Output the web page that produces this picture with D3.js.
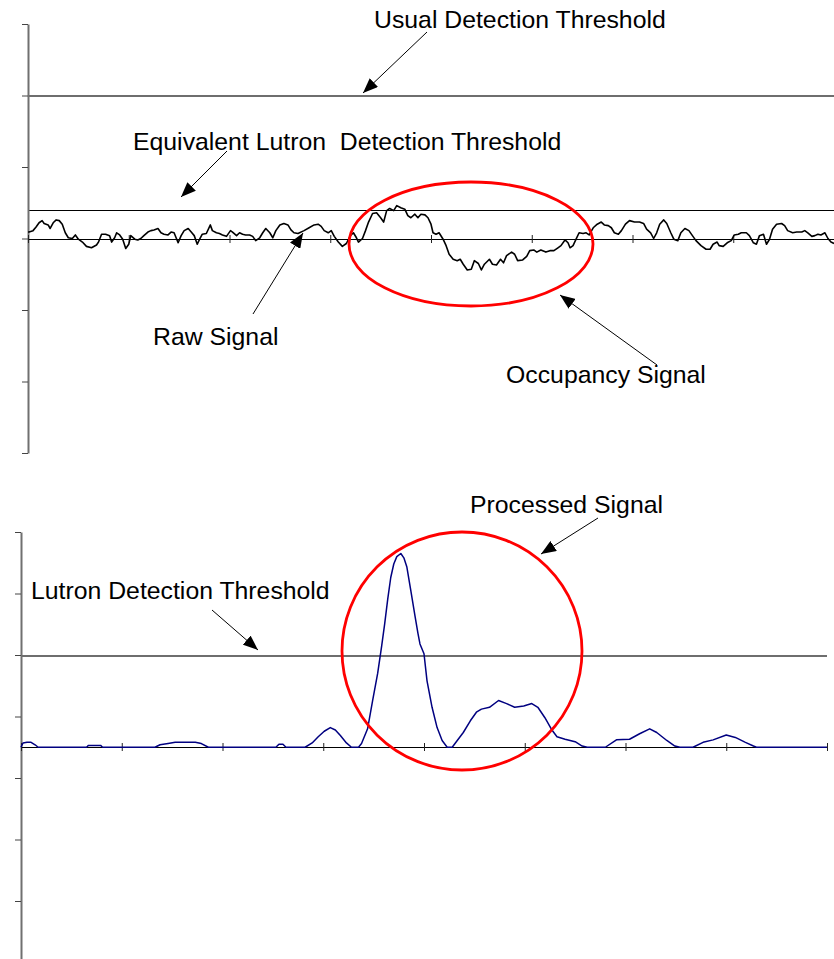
<!DOCTYPE html>
<html>
<head>
<meta charset="utf-8">
<script src="https://cdn.jsdelivr.net/npm/d3@7"></script>
<style>
body { margin: 0; background: #fff; }
text { font-family: "Liberation Sans", Arial, sans-serif; }
</style>
</head>
<body>
<div id="chart"></div>
<script>

// raw sensor signal [sample, value]
var rawSignal = [[0,0.09],[1,0.09],[5,0.11],[8,0.16],[11,0.22],[14,0.25],[16,0.21],[20,0.19],[22,0.14],[25,0.22],
  [28,0.26],[31,0.25],[34,0.20],[37,0.08],[40,0.01],[44,0.00],[47,0.05],[50,-0.01],[54,-0.05],[58,-0.11],
  [63,-0.13],[68,-0.09],[70,-0.05],[73,0.06],[77,0.06],[81,0.04],[83,-0.05],[86,0.01],[88,0.08],[91,0.05],
  [94,-0.01],[97,-0.14],[100,-0.08],[102,0.04],[106,-0.01],[109,-0.02],[112,0.00],[115,0.04],[119,0.09],[122,0.11],
  [125,0.12],[129,0.14],[132,0.08],[135,0.06],[139,0.05],[142,0.09],[145,0.08],[149,-0.06],[152,0.04],[155,0.11],
  [159,0.14],[162,0.09],[165,0.04],[168,-0.08],[170,-0.02],[173,0.06],[177,0.07],[181,0.19],[183,0.11],[187,0.08],
  [190,0.07],[193,0.05],[197,0.03],[201,0.11],[203,0.09],[207,0.04],[210,0.08],[213,0.06],[216,0.05],[220,0.05],
  [223,0.03],[226,-0.03],[230,0.01],[233,0.08],[236,0.14],[240,0.08],[243,0.01],[246,0.11],[250,0.19],[254,0.21],
  [258,0.19],[261,0.12],[264,0.08],[268,0.07],[274,0.11],[279,0.15],[284,0.19],[288,0.20],[291,0.17],[294,0.11],
  [298,0.08],[301,0.11],[304,0.03],[308,-0.05],[312,-0.11],[316,-0.07],[320,0.04],[323,0.08],[326,0.01],[328,-0.05],
  [332,0.00],[335,0.11],[338,0.23],[342,0.35],[346,0.36],[350,0.29],[353,0.23],[356,0.39],[359,0.42],[363,0.39],
  [366,0.46],[370,0.43],[374,0.41],[377,0.32],[380,0.29],[384,0.34],[387,0.29],[390,0.34],[394,0.33],[397,0.29],
  [400,0.20],[402,0.08],[405,0.06],[408,0.08],[412,-0.01],[415,-0.10],[418,-0.22],[422,-0.29],[426,-0.31],[429,-0.29],
  [432,-0.36],[436,-0.44],[440,-0.43],[443,-0.31],[447,-0.35],[450,-0.44],[453,-0.36],[458,-0.29],[461,-0.36],[465,-0.37],
  [469,-0.29],[472,-0.34],[475,-0.24],[480,-0.19],[483,-0.22],[486,-0.31],[491,-0.30],[495,-0.25],[498,-0.17],[502,-0.16],
  [505,-0.19],[509,-0.16],[514,-0.19],[518,-0.17],[522,-0.17],[526,-0.13],[529,-0.10],[533,-0.02],[536,-0.06],[538,-0.13],
  [541,-0.10],[544,-0.01],[547,0.08],[551,0.07],[554,0.08],[557,0.05],[561,0.15],[565,0.20],[569,0.23],[572,0.19],
  [576,0.18],[579,0.15],[582,0.08],[586,0.06],[589,0.11],[593,0.20],[597,0.25],[602,0.23],[607,0.23],[611,0.21],
  [614,0.13],[618,0.08],[621,0.00],[624,0.08],[627,0.20],[631,0.26],[634,0.21],[638,0.08],[641,-0.01],[645,-0.03],
  [648,0.08],[652,0.14],[656,0.11],[660,0.03],[663,-0.03],[668,-0.10],[673,-0.15],[677,-0.15],[680,-0.08],[684,-0.05],
  [686,-0.10],[690,-0.11],[694,-0.06],[698,-0.03],[701,0.05],[705,0.06],[708,0.08],[713,0.08],[716,0.04],[720,-0.06],
  [723,-0.08],[726,0.04],[730,0.06],[733,-0.08],[736,-0.01],[739,0.13],[743,0.20],[748,0.21],[751,0.18],[754,0.11],
  [759,0.08],[763,0.09],[768,0.09],[771,0.11],[774,0.08],[778,0.03],[781,0.04],[784,0.06],[787,0.05],[791,0.08],
  [794,0.00],[797,-0.05],[800,-0.07]];

// processed signal [sample, value]
var processedSignal = [[0,0],[2,0.07],[6,0.08],[10,0.08],[14,0.04],[17,0],[65,0],[67,0.03],[79,0.03],[81,0],
  [133,0],[138,0.04],[146,0.06],[153,0.08],[173,0.08],[179,0.06],[186,0],[253,0],[256,0.05],[260,0.05],[263,0],
  [282,0],[289,0.07],[295,0.17],[301,0.26],[307,0.32],[312,0.28],[317,0.19],[323,0.07],[328,0],[335,0],
  [338,0.06],[344,0.30],[349,0.76],[354,1.20],[358,1.65],[361,2.01],[364,2.41],[367,2.76],[370,2.98],[373,3.10],
  [377,3.15],[380,3.08],[383,2.93],[387,2.54],[391,2.14],[394,1.85],[396,1.68],[400,1.52],[403,1.08],[408,0.65],
  [413,0.32],[418,0.11],[423,0],[428,0],[433,0.11],[439,0.24],[446,0.43],[452,0.57],[457,0.62],[465,0.65],
  [474,0.76],[482,0.71],[490,0.65],[499,0.67],[507,0.71],[513,0.65],[520,0.48],[527,0.28],[532,0.17],[540,0.13],
  [550,0.09],[557,0.02],[562,0],[580,0],[591,0.12],[604,0.13],[614,0.22],[624,0.30],[631,0.24],[641,0.11],
  [649,0.02],[654,0],[667,0],[677,0.08],[687,0.12],[700,0.20],[709,0.16],[719,0.08],[727,0.02],[730,0],[800,0]];

var usualThreshold = 2;
var equivThreshold = 0.4;
var lutronThreshold = 1.5;

var xTicks = [0, 100, 200, 300, 400, 500, 600, 700, 800];
var topYTicks = [-3, -2, -1, 0, 1, 2, 3];
var bottomYTicks = [-3.5, -2.5, -1.5, -0.5, 0.5, 1.5, 2.5, 3.5];

var width = 834, height = 959;

var svg = d3.select("#chart")
  .append("svg")
    .attr("width", width)
    .attr("height", height);

// arrow head
svg.append("defs").append("marker")
    .attr("id", "arrow")
    .attr("viewBox", "0 0 15 12")
    .attr("refX", 15)
    .attr("refY", 6)
    .attr("markerWidth", 15)
    .attr("markerHeight", 12)
    .attr("markerUnits", "userSpaceOnUse")
    .attr("orient", "auto")
  .append("path")
    .attr("d", "M0,0L15,6L0,12Z")
    .attr("fill", "#000");

// scales
var xTop = d3.scaleLinear().domain([0, 800]).range([28, 834]);
var yTop = d3.scaleLinear().domain([-3, 3]).range([453, 24]);
var xBot = d3.scaleLinear().domain([0, 800]).range([21, 827]);
var yBot = d3.scaleLinear().domain([-3.5, 3.5]).range([962.5, 532]);

function drawPanel(x, y, yTicks, x0) {
  // vertical axis
  var ya = svg.append("g")
      .attr("transform", "translate(" + x0 + ",0)")
      .call(d3.axisLeft(y).tickValues(yTicks).tickSize(6).tickSizeOuter(0).tickFormat(""));
  ya.select(".domain").attr("stroke", "#707070").attr("stroke-width", 2);
  ya.selectAll(".tick line").attr("stroke", "#444");

  // zero line with crossing ticks
  var xa = svg.append("g")
      .attr("transform", "translate(0," + Math.round(y(0)) + ")")
      .call(d3.axisBottom(x).tickValues(xTicks).tickSizeOuter(0).tickFormat(""));
  xa.select(".domain").attr("stroke", "#000").attr("stroke-width", 1);
  xa.selectAll(".tick line").attr("y1", -4).attr("y2", 4).attr("stroke", "#222");
}

function thresholdLine(x, y, v, color, w) {
  svg.append("line")
    .attr("x1", x(0))
    .attr("x2", x(800))
    .attr("y1", Math.round(y(v)) + 0.5)
    .attr("y2", Math.round(y(v)) + 0.5)
    .attr("stroke", color)
    .attr("stroke-width", w)
    .attr("shape-rendering", "crispEdges");
}

// top panel
thresholdLine(xTop, yTop, usualThreshold, "#6e6e6e", 2);
thresholdLine(xTop, yTop, equivThreshold, "#000", 1);
drawPanel(xTop, yTop, topYTicks, 28);

svg.append("path")
  .datum(rawSignal)
  .attr("fill", "none")
  .attr("stroke", "#000")
  .attr("stroke-width", 1.6)
  .attr("stroke-linejoin", "round")
  .attr("d", d3.line()
    .x(function(d){ return xTop(d[0]); })
    .y(function(d){ return yTop(d[1]); }));

// bottom panel
thresholdLine(xBot, yBot, lutronThreshold, "#6e6e6e", 2);
drawPanel(xBot, yBot, bottomYTicks, 21);

svg.append("path")
  .datum(processedSignal)
  .attr("fill", "none")
  .attr("stroke", "#000080")
  .attr("stroke-width", 1.5)
  .attr("stroke-linejoin", "round")
  .attr("d", d3.line()
    .x(function(d){ return xBot(d[0]); })
    .y(function(d){ return yBot(d[1]); }));

// red highlight ellipses
svg.append("ellipse")
  .attr("cx", 471).attr("cy", 244).attr("rx", 122).attr("ry", 62)
  .attr("fill", "none").attr("stroke", "#ff0000").attr("stroke-width", 2.8);

svg.append("ellipse")
  .attr("cx", 462).attr("cy", 651).attr("rx", 120).attr("ry", 119)
  .attr("fill", "none").attr("stroke", "#ff0000").attr("stroke-width", 2.8);

// labels
var labels = [
  {t: "Usual Detection Threshold", x: 374, y: 28},
  {t: "Equivalent Lutron  Detection Threshold", x: 133, y: 150},
  {t: "Raw Signal", x: 153, y: 345},
  {t: "Occupancy Signal", x: 506, y: 383},
  {t: "Processed Signal", x: 470, y: 513},
  {t: "Lutron Detection Threshold", x: 31, y: 599}
];

svg.selectAll(".label")
  .data(labels)
  .enter()
  .append("text")
    .attr("class", "label")
    .attr("x", function(d){ return d.x; })
    .attr("y", function(d){ return d.y; })
    .style("white-space", "pre")
    .attr("font-size", "24.8px")
    .attr("fill", "#000")
    .text(function(d){ return d.t; });

// arrows [x1, y1, tipX, tipY]
var arrows = [
  [427, 32, 363, 93],
  [227, 151, 181, 197],
  [253, 314, 303, 233],
  [657, 365, 560, 295],
  [598, 518, 541, 554],
  [212, 610, 258, 650]
];

svg.selectAll(".arrow")
  .data(arrows)
  .enter()
  .append("line")
    .attr("class", "arrow")
    .attr("x1", function(d){ return d[0]; })
    .attr("y1", function(d){ return d[1]; })
    .attr("x2", function(d){ return d[2]; })
    .attr("y2", function(d){ return d[3]; })
    .attr("stroke", "#000")
    .attr("stroke-width", 1)
    .attr("marker-end", "url(#arrow)");

</script>
</body>
</html>
